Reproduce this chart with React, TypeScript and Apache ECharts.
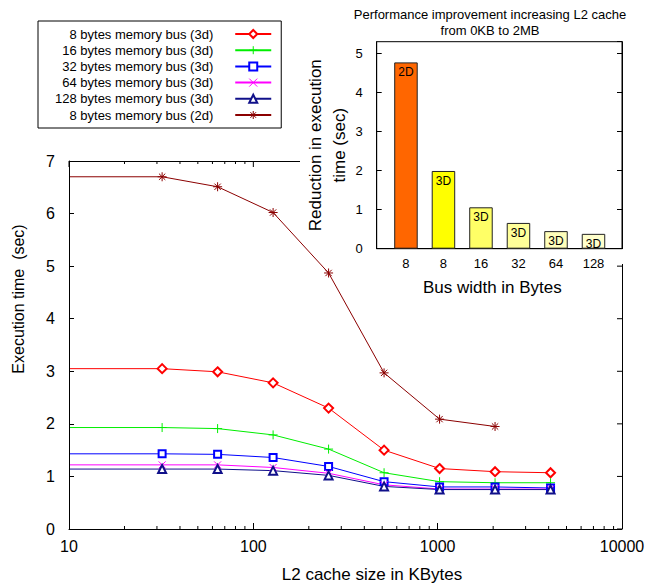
import React, { useEffect, useRef } from "react";
import * as echarts from "echarts";

// ---- data ----
const cacheKB = [10, 32, 64, 128, 256, 512, 1024, 2048, 4096];
const bus8_3d = [3.05, 3.05, 2.99, 2.78, 2.3, 1.5, 1.15, 1.09, 1.07];
const bus16_3d = [1.93, 1.93, 1.91, 1.79, 1.52, 1.07, 0.9, 0.88, 0.88];
const bus32_3d = [1.43, 1.43, 1.42, 1.36, 1.19, 0.9, 0.8, 0.8, 0.78];
const bus64_3d = [1.22, 1.22, 1.22, 1.17, 1.06, 0.84, 0.76, 0.76, 0.76];
const bus128_3d = [1.14, 1.14, 1.14, 1.11, 1.02, 0.81, 0.75, 0.75, 0.75];
const bus8_2d = [6.7, 6.7, 6.51, 6.02, 4.87, 2.97, 2.09, 1.95];

const seriesNames = [
  "8 bytes memory bus (3d)",
  "16 bytes memory bus (3d)",
  "32 bytes memory bus (3d)",
  "64 bytes memory bus (3d)",
  "128 bytes memory bus (3d)",
  "8 bytes memory bus (2d)",
];

const busLabels = ["8", "8", "16", "32", "64", "128"];
const dimLabels = ["2D", "3D", "3D", "3D", "3D", "3D"];
const reduction = [4.77, 1.99, 1.06, 0.66, 0.45, 0.38];

const majorTicksX = [10, 100, 1000, 10000];
const minorTicks = [20, 30, 40, 50, 60, 70, 80, 90, 200, 300, 400, 500, 600, 700, 800, 900, 2000, 3000, 4000, 5000, 6000, 7000, 8000, 9000];
const yTicks = [0, 1, 2, 3, 4, 5, 6, 7];

// ---- styles / layout ----
const FONT = "'Liberation Sans', Arial, Helvetica, sans-serif";
const barColors = ["#ff6600", "#ffff00", "#ffff66", "#ffff99", "#ffffbb", "#ffffcc"];
const lineColors = ["#ff0000", "#00ee00", "#0000ff", "#ff00ff", "#10108a", "#8b0000"];
const plusPath = "path://M5 0 L5 10 M0 5 L10 5";
const xPath = "path://M0 0 L10 10 M0 10 L10 0";
const starPath = "path://M5 0 L5 10 M0 5 L10 5 M1.5 1.5 L8.5 8.5 M1.5 8.5 L8.5 1.5";
const symbols = ["emptyDiamond", plusPath, "emptyRect", xPath, "emptyTriangle", starPath];
const symbolSizes = [9, 9, 7, 7, 8, 9];
const TOP_BORDER_END = 300; // main frame's top border stops where the inset begins
const RIGHT_BORDER_TOP = 264; // main frame's right border is hidden above the inset

function toPoints(values: number[]) {
  return values.map((v, i) => {
    const p: any = { value: [cacheKB[i], v] };
    if (i === 0) p.symbol = "none";
    return p;
  });
}

export default function App() {
  const ref = useRef<HTMLDivElement>(null);
  useEffect(() => {
    if (!ref.current) return;
    const chart = echarts.init(ref.current, null, { renderer: "svg" });
    const allLines = [bus8_3d, bus16_3d, bus32_3d, bus64_3d, bus128_3d, bus8_2d];

    const lineSeries = allLines.map((vals, k) => ({
      type: "line",
      name: seriesNames[k],
      xAxisIndex: 0,
      yAxisIndex: 0,
      data: toPoints(vals),
      symbol: symbols[k],
      symbolSize: symbolSizes[k],
      lineStyle: { width: 1, color: lineColors[k] },
      itemStyle: { color: lineColors[k], borderColor: lineColors[k], borderWidth: 1 },
      z: 2,
    }));

    const axisLine = () => ({ show: true, onZero: false, lineStyle: { color: "#000", width: 1 } });
    const blk = { stroke: "#000", lineWidth: 1 };
    const seg = (x1: number, y1: number, x2: number, y2: number) => ({
      type: "line",
      shape: { x1, y1, x2, y2 },
      style: blk,
    });

    chart.setOption({
      animation: false,
      textStyle: { fontFamily: FONT, color: "#000" },
      title: {
        text: "Performance improvement increasing L2 cache\nfrom 0KB to 2MB",
        left: 490,
        top: 6,
        padding: 0,
        z: 15,
        textAlign: "center",
        textStyle: { fontSize: 13, fontWeight: "normal", lineHeight: 16, color: "#000", fontFamily: FONT },
      },
      legend: {
        data: seriesNames,
        orient: "vertical",
        align: "right",
        left: 38,
        top: 21,
        z: 15,
        padding: [6, 9, 6, 17],
        itemWidth: 36,
        itemHeight: 10,
        itemGap: 2.2,
        borderColor: "#000",
        borderWidth: 1,
        itemStyle: { borderWidth: 1 },
        textStyle: { fontSize: 13, lineHeight: 14, color: "#000", fontFamily: FONT, padding: [0, 17, 0, 0] },
      },
      grid: [
        { left: 69, top: 161, width: 553, height: 371, show: false },
        { left: 376.7, top: 41.7, width: 245.3, height: 207, show: true, borderColor: "#000", borderWidth: 1, backgroundColor: "transparent", z: 13 },
      ],
      xAxis: [
        {
          gridIndex: 0,
          type: "log",
          logBase: 10,
          min: 10,
          max: 10000,
          position: "bottom",
          z: 6,
          axisLine: axisLine(),
          axisTick: { inside: true, length: 6, lineStyle: { color: "#000" } },
          axisLabel: { fontSize: 16, color: "#000", margin: 9, formatter: (v: number) => String(Math.round(v)) },
          splitLine: { show: false },
          name: "L2 cache size in KBytes",
          nameLocation: "middle",
          nameGap: 37,
          nameTextStyle: { fontSize: 17, color: "#000", padding: [0, 0, 0, 53] },
        },
        {
          gridIndex: 1,
          type: "value",
          min: -0.78,
          max: 5.76,
          z: 13,
          axisLine: axisLine(),
          axisTick: { show: false },
          axisLabel: {
            fontSize: 13,
            color: "#000",
            margin: 8,
            formatter: (v: number) => {
              const r = Math.round(v);
              if (Math.abs(v - r) > 1e-6 || r < 0 || r >= busLabels.length) return "";
              return busLabels[r];
            },
          },
          splitLine: { show: false },
          name: "Bus width in Bytes",
          nameLocation: "middle",
          nameGap: 30,
          nameTextStyle: { fontSize: 17, color: "#000", padding: [0, 14, 0, 0] },
        },
      ],
      yAxis: [
        {
          gridIndex: 0,
          type: "value",
          min: 0,
          max: 7,
          interval: 1,
          z: 6,
          axisLine: axisLine(),
          axisTick: { inside: true, length: 5, lineStyle: { color: "#000" } },
          axisLabel: { fontSize: 16, color: "#000", margin: 14 },
          splitLine: { show: false },
          name: "Execution time  (sec)",
          nameLocation: "middle",
          nameGap: 43,
          nameTextStyle: { fontSize: 16, color: "#000", padding: [0, 0, 0, 92] },
        },
        {
          gridIndex: 1,
          type: "value",
          min: 0,
          max: 5.3,
          interval: 1,
          z: 13,
          axisLine: axisLine(),
          axisTick: { inside: true, length: 5, lineStyle: { color: "#000" } },
          axisLabel: { fontSize: 13, color: "#000", margin: 14, showMaxLabel: false },
          splitLine: { show: false },
          name: "Reduction in execution\ntime (sec)",
          nameLocation: "middle",
          nameGap: 24,
          nameTextStyle: { fontSize: 17, color: "#000", lineHeight: 24 },
        },
        {
          gridIndex: 1,
          type: "value",
          position: "right",
          min: 0,
          max: 5.3,
          interval: 1,
          z: 13,
          axisLine: axisLine(),
          axisTick: { inside: true, length: 5, lineStyle: { color: "#000" } },
          axisLabel: { show: false },
          splitLine: { show: false },
        },
      ],
      series: [
        ...lineSeries,
        {
          // minor ticks of the log axis, bottom and (left of the inset) top
          type: "custom",
          name: "minorTicks",
          xAxisIndex: 0,
          yAxisIndex: 0,
          silent: true,
          clip: false,
          z: 6,
          data: minorTicks.map((v) => [v, 0]),
          encode: { x: 0, y: 1 },
          renderItem: (params: any, api: any) => {
            const v = api.value(0);
            const b = api.coord([v, yTicks[0]]);
            const t = api.coord([v, yTicks[yTicks.length - 1]]);
            const children: any[] = [seg(b[0], b[1], b[0], b[1] - 3)];
            if (t[0] < TOP_BORDER_END) children.push(seg(t[0], t[1], t[0], t[1] + 3));
            return { type: "group", children };
          },
        },
        {
          // mirrored frame: top border with ticks, right border with ticks
          type: "custom",
          name: "frame",
          xAxisIndex: 0,
          yAxisIndex: 0,
          silent: true,
          clip: false,
          z: 6,
          data: [[majorTicksX[0], yTicks[yTicks.length - 1]]],
          encode: { x: 0, y: 1 },
          renderItem: (params: any, api: any) => {
            const yMax = yTicks[yTicks.length - 1];
            const xMax = majorTicksX[majorTicksX.length - 1];
            const tl = api.coord([majorTicksX[0], yMax]);
            const br = api.coord([xMax, yTicks[0]]);
            const children: any[] = [];
            children.push(seg(tl[0], tl[1] + 0.5, TOP_BORDER_END, tl[1] + 0.5));
            children.push(seg(br[0] + 0.5, RIGHT_BORDER_TOP, br[0] + 0.5, br[1]));
            majorTicksX.forEach((v) => {
              const p = api.coord([v, yMax]);
              if (p[0] < TOP_BORDER_END) children.push(seg(p[0], p[1], p[0], p[1] + 6));
            });
            yTicks.forEach((v) => {
              const p = api.coord([xMax, v]);
              if (p[1] >= RIGHT_BORDER_TOP) children.push(seg(p[0], p[1], p[0] - 5, p[1]));
            });
            return { type: "group", children };
          },
        },
        {
          type: "bar",
          name: "reduction",
          xAxisIndex: 1,
          yAxisIndex: 1,
          barWidth: 23.5,
          z: 14,
          data: reduction.map((v, i) => ({
            value: [i, v],
            itemStyle: { color: barColors[i], borderColor: "#222", borderWidth: 1 },
          })),
          label: {
            show: true,
            position: "insideTop",
            distance: 4,
            fontSize: 12,
            color: "#000",
            fontFamily: FONT,
            formatter: (p: any) => dimLabels[p.dataIndex],
          },
        },
      ],
    });
    return () => chart.dispose();
  }, []);

  return (
    <div
      ref={ref}
      style={{ position: "fixed", left: 0, top: 0, width: 660, height: 588, background: "#fff" }}
    />
  );
}
